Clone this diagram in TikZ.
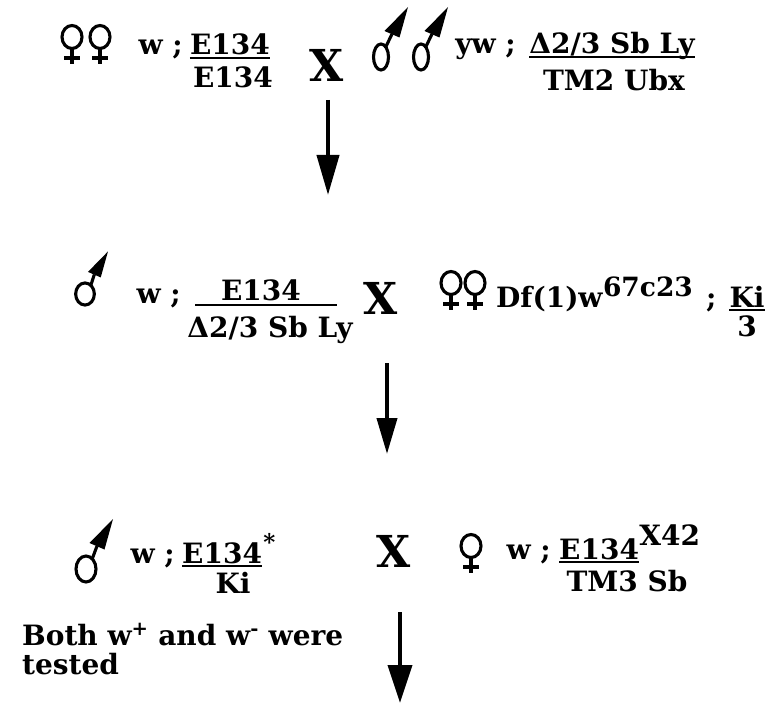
\documentclass[tikz,border=0pt]{standalone}
\usepackage{fontspec}
\setmainfont{DejaVu Serif}
\usetikzlibrary{arrows.meta}
\begin{document}
\begin{tikzpicture}[x=1pt,y=-1pt,
  txt/.style={font=\bfseries\fontsize{28}{30}\selectfont, inner sep=0pt, anchor=base west},
  txtc/.style={txt, anchor=base},
  txte/.style={txt, anchor=base east},
  sup/.style={font=\bfseries\fontsize{23}{25}\selectfont, inner sep=0pt, anchor=base west},
  cross/.style={font=\bfseries\fontsize{44}{46}\selectfont, inner sep=0pt, anchor=base},
  bar/.style={line width=2.2pt},
  sym/.style={line width=3.1pt},
  flow/.style={line width=4pt, -{Triangle[length=40pt,width=22pt]}},
  pics/malesign/.style={code={
    \draw[sym] (0,0) ellipse (#1 and 13);
    \draw[sym] (0.6*#1,-9.5) -- (11,-23);
    \fill (3.5,-26) -- (27,-50) -- (18.5,-19.5) -- cycle;
  }},
  pics/femalesign/.style={code={
    \draw[sym] (0,0) ellipse (10 and 11.5);
    \draw[sym] (0,11.5) -- (0,27);
    \draw[sym] (-8,21) -- (8,21);
  }}]
\useasboundingbox (0,0) rectangle (768,703);

% ---------- row 1 ----------
\pic at (72,37) {femalesign};
\pic at (100,37) {femalesign};
\node[txte] (r1w) at (183,55) {w ;};
\node[txtc] (r1n) at (230,55) {E134};
\draw[bar] ([yshift=-3pt]r1n.base west) -- ([yshift=-3pt]r1n.base east);
\node[txtc] (r1d) at (233,88) {E134};
\node[cross] (r1x) at (327,82) {X};
\pic at (381,57) {malesign=7.5};
\pic at (421,57) {malesign=7.5};
\node[txte] (r1yw) at (516,54) {yw ;};
\node[txtc] (r1n2) at (612,54) {Δ2/3 Sb Ly};
\draw[bar] ([yshift=-3pt]r1n2.base west) -- ([yshift=-3pt]r1n2.base east);
\node[txtc] (r1d2) at (614,91) {TM2 Ubx};

\coordinate (a1s) at (328,100);
\coordinate (a1e) at (328,195);
\draw[flow] (a1s) -- (a1e);

% ---------- row 2 ----------
\pic[scale=0.85] at (85,294) {malesign=11};
\node[txte] (r2w) at (181,303) {w ;};
\node[txtc] (r2n) at (261,300) {E134};
\coordinate (r2bl) at (195,305);
\coordinate (r2br) at (337,305);
\draw[bar] (r2bl) -- (r2br);
\node[txtc] (r2d) at (270,337) {Δ2/3 Sb Ly};
\node[cross] (r2x) at (381,314) {X};
\pic at (451,283) {femalesign};
\pic at (475,283) {femalesign};
\node[txt] (r2df) at (496,307) {Df(1)w};
\node[sup, font=\bfseries\fontsize{26.5}{28}\selectfont] (r2s) at ([yshift=11pt]r2df.base east) {67c23};
\node[txt] (r2sc) at (706,307) {;};
\node[txtc] (r2ki) at (747,307) {Ki};
\draw[bar] ([yshift=-3pt]r2ki.base west) -- ([yshift=-3pt]r2ki.base east);
\node[txtc] (r2three) at (747,336) {3};

\coordinate (a2s) at (387,363);
\coordinate (a2e) at (387,454);
\draw[flow, -{Triangle[length=36pt,width=20pt]}] (a2s) -- (a2e);

% ---------- row 3 ----------
\pic at (86,569) {malesign=10};
\node[txte] (r3w) at (175,563) {w ;};
\node[txt] (r3n) at (182,563) {E134};
\draw[bar] ([yshift=-3pt]r3n.base west) -- ([yshift=-3pt]r3n.base east);
\node[sup] (r3st) at ([xshift=1pt,yshift=13pt]r3n.base east) {*};
\node[txtc] (r3d) at (233,593) {Ki};
\node[cross] (r3x) at (394,567) {X};
\pic at (471,546) {femalesign};
\node[txte] (r3w2) at (551,559) {w ;};
\node[txt] (r3n2) at (559,559) {E134};
\draw[bar] ([yshift=-3pt]r3n2.base west) -- ([yshift=-3pt]r3n2.base east);
\node[txt] (r3x42) at ([yshift=14pt]r3n2.base east) {X42};
\node[txtc] (r3d2) at (627,591) {TM3 Sb};

\node[txt] (both) at (22,645) {Both w\textsuperscript{+} and w\textsuperscript{-} were};
\node[txt] (tested) at (22,674) {tested};

\coordinate (a3s) at (400,612);
\coordinate (a3e) at (400,703);
\draw[flow, -{Triangle[length=38pt,width=24pt]}] (a3s) -- (a3e);
\end{tikzpicture}
\end{document}
